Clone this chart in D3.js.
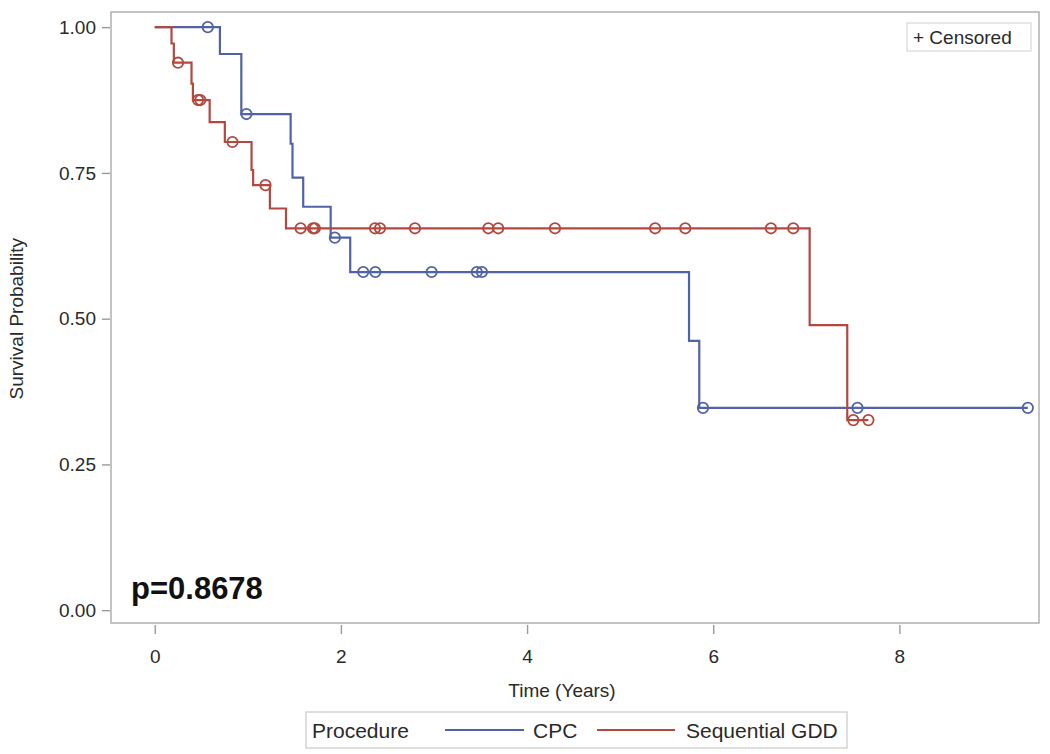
<!DOCTYPE html>
<html>
<head>
<meta charset="utf-8">
<script src="https://cdn.jsdelivr.net/npm/d3@7"></script>
<style>
  body { margin: 0; background: #fff; }
  svg { display: block; font-family: "Liberation Sans", Arial, sans-serif; }
</style>
</head>
<body>
<div id="chart"></div>
<script>
// CPC curve: step points (time in years, survival probability)
const cpcTimes = [0, 0.70, 0.93, 1.46, 1.48, 1.595, 1.89, 2.10, 5.74, 5.85, 9.38];
const cpcSurv  = [1, 0.954, 0.851, 0.800, 0.742, 0.692, 0.639, 0.580, 0.462, 0.347, 0.347];
const cpcCensored = [0.57, 0.985, 1.935, 2.24, 2.37, 2.975, 3.46, 3.515, 5.89, 7.55, 9.38];

// Sequential GDD curve
const gddTimes = [0, 0.18, 0.205, 0.395, 0.41, 0.59, 0.753, 1.04, 1.057, 1.237, 1.41, 7.036, 7.44, 7.667];
const gddSurv  = [1, 0.972, 0.939, 0.903, 0.875, 0.837, 0.803, 0.755, 0.729, 0.689, 0.655, 0.489, 0.326, 0.326];
const gddCensored = [0.25, 0.465, 0.49, 0.835, 1.19, 1.567, 1.70, 1.72, 2.366, 2.42, 2.796,
                     3.584, 3.69, 4.30, 5.376, 5.70, 6.62, 6.86, 7.505, 7.667];

const xTicks = [0, 2, 4, 6, 8];
const yTicks = [0, 0.25, 0.5, 0.75, 1];
const groups = ["CPC", "Sequential GDD"];
const colors = ["#5163a5", "#b4483f"];
const pValue = "p=0.8678";

const width = 1050, height = 754;
const frame = {left: 111, right: 1039, top: 12, bottom: 623};

const svg = d3.select("#chart").append("svg")
    .attr("width", width)
    .attr("height", height);

const x = d3.scaleLinear().domain([-0.47, 9.5]).range([frame.left, frame.right]);
const y = d3.scaleLinear().domain([-0.022, 1.026]).range([frame.bottom, frame.top]);

// plot frame
svg.append("rect")
    .attr("x", frame.left)
    .attr("y", frame.top)
    .attr("width", frame.right - frame.left)
    .attr("height", frame.bottom - frame.top)
    .attr("fill", "#fff")
    .attr("stroke", "#b4b4b4")
    .attr("stroke-width", 1.6);

// axes
const yAxis = svg.append("g")
    .attr("transform", `translate(${frame.left - 1},0)`)
    .call(d3.axisLeft(y).tickValues(yTicks).tickFormat(d3.format(".2f")).tickSize(8).tickPadding(6));
const xAxis = svg.append("g")
    .attr("transform", `translate(0,${frame.bottom + 2})`)
    .call(d3.axisBottom(x).tickValues(xTicks).tickFormat(d3.format("d")).tickSize(9).tickPadding(16));

[xAxis, yAxis].forEach(g => {
    g.select(".domain").remove();
    g.selectAll(".tick line").attr("stroke", "#9a9a9a").attr("stroke-width", 1.4);
    g.selectAll(".tick text")
        .attr("fill", "#2a2a2a")
        .style("font-size", "19px")
        .style("font-family", "'Liberation Sans', Arial, sans-serif");
});

// axis titles
svg.append("text")
    .attr("x", 562)
    .attr("y", 697)
    .attr("text-anchor", "middle")
    .attr("fill", "#2a2a2a")
    .style("font-size", "19px")
    .text("Time (Years)");

svg.append("text")
    .attr("transform", `translate(23,${(y(0) + y(1)) / 2}) rotate(-90)`)
    .attr("text-anchor", "middle")
    .attr("fill", "#2a2a2a")
    .style("font-size", "19px")
    .text("Survival Probability");

// step lines
const line = d3.line()
    .x(d => x(d[0]))
    .y(d => y(d[1]))
    .curve(d3.curveStepAfter);

// survival at a censor time, looked up from the step points
function survAt(times, surv, t) {
    let s = surv[0];
    for (let i = 0; i < times.length; i++) {
        if (times[i] <= t) s = surv[i];
    }
    return s;
}

const series = [
    {name: groups[0], times: cpcTimes, surv: cpcSurv, cens: cpcCensored, color: colors[0]},
    {name: groups[1], times: gddTimes, surv: gddSurv, cens: gddCensored, color: colors[1]}
];

series.forEach(s => {
    const pts = s.times.map((t, i) => [t, s.surv[i]]);
    svg.append("path")
        .datum(pts)
        .attr("d", line)
        .attr("fill", "none")
        .attr("stroke", s.color)
        .attr("stroke-width", 2.2);

    svg.selectAll(null)
        .data(s.cens)
        .enter().append("circle")
        .attr("cx", d => x(d))
        .attr("cy", d => y(survAt(s.times, s.surv, d)))
        .attr("r", 5.2)
        .attr("fill", "none")
        .attr("stroke", s.color)
        .attr("stroke-width", 1.8);
});

// p-value
svg.append("text")
    .attr("x", 131)
    .attr("y", 599)
    .attr("fill", "#111")
    .style("font-size", "31px")
    .style("font-weight", "bold")
    .text(pValue);

// censored key (top right)
svg.append("rect")
    .attr("x", 907).attr("y", 23)
    .attr("width", 124).attr("height", 28)
    .attr("fill", "#fff")
    .attr("stroke", "#d0d0d0");
svg.append("text")
    .attr("x", 913).attr("y", 44)
    .attr("fill", "#2a2a2a")
    .style("font-size", "19px")
    .text("+ Censored");

// bottom legend
const legend = svg.append("g");
legend.append("rect")
    .attr("x", 306).attr("y", 712)
    .attr("width", 541).attr("height", 36)
    .attr("fill", "#fff")
    .attr("stroke", "#d0d0d0")
    .attr("stroke-width", 1.4);
legend.append("text")
    .attr("x", 312).attr("y", 738)
    .attr("fill", "#2a2a2a")
    .style("font-size", "21px")
    .text("Procedure");

const legendItems = [
    {x1: 445, x2: 524, tx: 533},
    {x1: 597, x2: 675, tx: 686}
];
legendItems.forEach((it, i) => {
    legend.append("line")
        .attr("x1", it.x1).attr("x2", it.x2)
        .attr("y1", 730).attr("y2", 730)
        .attr("stroke", colors[i])
        .attr("stroke-width", 2);
    legend.append("text")
        .attr("x", it.tx).attr("y", 738)
        .attr("fill", "#2a2a2a")
        .style("font-size", "21px")
        .text(groups[i]);
});
</script>
</body>
</html>
